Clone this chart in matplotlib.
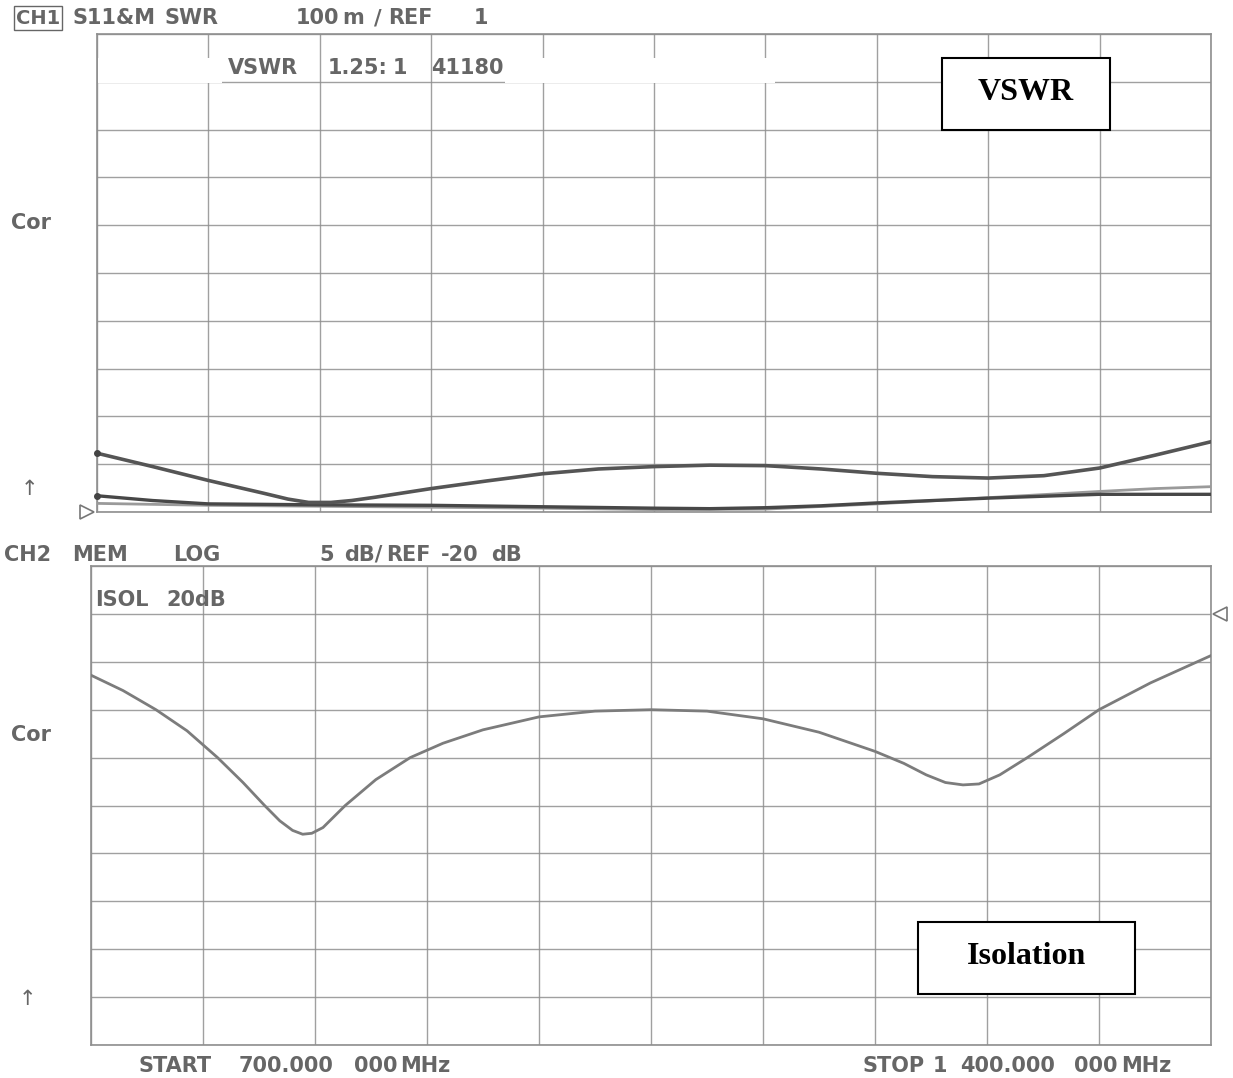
import numpy as np
import matplotlib
matplotlib.use("Agg")
import matplotlib.pyplot as plt
from matplotlib.patches import Rectangle
from matplotlib.lines import Line2D

# sweep: 700 - 1400 MHz, 70 MHz / div
f_start, f_stop = 700, 1400

# CH1 : SWR traces (100 m / div, REF 1)
swr_a_freq = [700, 735, 770, 805, 820, 833, 847, 860, 875, 910, 945, 980, 1015,
              1050, 1085, 1120, 1155, 1190, 1225, 1260, 1295, 1330, 1365, 1400]
swr_a = [1.123, 1.095, 1.066, 1.039, 1.027, 1.020, 1.020, 1.024, 1.031, 1.049,
         1.065, 1.080, 1.090, 1.095, 1.098, 1.097, 1.090, 1.081, 1.074, 1.071,
         1.076, 1.092, 1.119, 1.147]

swr_b_freq = [700, 735, 770, 840, 910, 980, 1050, 1085, 1120, 1155, 1190,
              1225, 1260, 1295, 1330, 1365, 1400]
swr_b = [1.034, 1.024, 1.017, 1.015, 1.014, 1.011, 1.008, 1.007, 1.009, 1.013,
         1.019, 1.024, 1.029, 1.033, 1.037, 1.037, 1.037]

swr_c_freq = [700, 770, 840, 910, 980, 1050, 1120, 1190, 1260, 1330, 1365, 1400]
swr_c = [1.018, 1.014, 1.012, 1.010, 1.008, 1.005, 1.006, 1.017, 1.030, 1.043,
         1.049, 1.053]

# CH2 : isolation (5 dB / div, REF -20 dB)
iso_freq = [700, 720, 740.6, 760, 779.1, 795, 808.5, 818, 826, 832.3, 838, 845,
            858.9, 878, 899.5, 920, 945, 980, 1015, 1050, 1085, 1120, 1155,
            1190, 1208, 1222, 1234, 1245, 1255, 1268, 1285.2, 1308, 1330, 1362.2,
            1400]
iso_db = [-26.4, -28.0, -30.0, -32.2, -35.0, -37.6, -40.0, -41.6, -42.6, -43.0,
          -42.9, -42.3, -40.0, -37.3, -35.0, -33.5, -32.1, -30.75, -30.15, -30.0,
          -30.15, -30.95, -32.35, -34.35, -35.6, -36.8, -37.6, -37.85, -37.75,
          -36.8, -35.0, -32.5, -30.0, -27.2, -24.35]

# plotter annotation words: (y, [(x_left, x_right, word), ...])
header_lines = [
    (18, [(80, 148, "S11&M"), (160, 223, "SWR"), (297, 337, "100"), (345, 362, "m"),
          (372, 383, "/"), (387, 433, "REF"), (475, 487, "1")]),
    (68, [(235, 290, "VSWR"), (328, 388, "1.25:"), (395, 405, "1"), (437, 497, "41180")]),
    (555, [(10, 45, "CH2"), (79, 121, "MEM"), (175, 219, "LOG"), (320, 333, "5"),
           (344, 383, "dB/"), (388, 429, "REF"), (439, 481, "-20"), (494, 520, "dB")]),
    (600, [(95, 149, "ISOL"), (156, 236, "20dB")]),
    (223, [(9, 52, "Cor")]),
    (735, [(9, 52, "Cor")]),
    (1066, [(143, 207, "START"), (230, 343, "700.000"), (353, 398, "000"),
            (406, 445, "MHz"), (865, 922, "STOP"), (935, 945, "1"),
            (953, 1063, "400.000"), (1073, 1118, "000"), (1127, 1165, "MHz")]),
]

W, H = 1233, 1078
fig = plt.figure(figsize=(W / 100, H / 100), dpi=100)

grid_c = "#8f8f8f"
text_c = "#666666"
plot_font = "DejaVu Sans"


def px(x, y):
    # pixel coords (top-left origin) -> figure fraction
    return x / W, 1 - y / H


def grid_axes(rect, ylim, step):
    ax = fig.add_axes(rect)
    ax.set_xlim(f_start, f_stop)
    ax.set_ylim(*ylim)
    ax.set_xticks(np.linspace(f_start, f_stop, 11))
    ax.set_yticks(np.arange(ylim[0], ylim[1] + step / 2, step))
    ax.tick_params(length=0, labelbottom=False, labelleft=False)
    ax.grid(True, color=grid_c, lw=1.0, alpha=0.85)
    for s in ax.spines.values():
        s.set_color(grid_c)
        s.set_linewidth(1.2)
    return ax


# top panel: x 97..1211, y 34..512
ax1 = grid_axes([97 / W, 1 - 512 / H, 1114 / W, 478 / H], (1.0, 2.0), 0.1)
ax1.plot(swr_c_freq, swr_c, color="#9a9a9a", lw=2.0, solid_joinstyle="round", zorder=3)
ax1.plot(swr_b_freq, swr_b, color="#474747", lw=2.4, solid_joinstyle="round", zorder=4)
ax1.plot(swr_a_freq, swr_a, color="#555555", lw=2.6, solid_joinstyle="round", zorder=4)
ax1.plot([swr_a_freq[0], swr_b_freq[0]], [swr_a[0], swr_b[0]], "o", color="#444444",
         ms=4, zorder=5, clip_on=False)

# bottom panel: x 91..1211, y 566..1045
ax2 = grid_axes([91 / W, 1 - 1045 / H, 1120 / W, 479 / H], (-65, -15), 5)
ax2.plot(iso_freq, iso_db, color="#7c7c7c", lw=2.0, solid_joinstyle="round", zorder=3)

# redacted strip in the marker line
for x0, x1 in [(98, 222), (505, 775)]:
    fig.add_artist(Rectangle(px(x0, 83), (x1 - x0) / W, 25 / H, transform=fig.transFigure,
                             facecolor="white", edgecolor="none", zorder=10))


def ptext(x, y, s, size=15, weight="bold", ha="center", **kw):
    fig.text(*px(x, y), s, fontsize=size, family=plot_font, color=text_c,
             va="center", ha=ha, fontweight=weight, zorder=11, **kw)


ptext(38, 18, "CH1", size=14,
      bbox=dict(boxstyle="square,pad=0.12", fc="none", ec=text_c, lw=1))
for y, words in header_lines:
    for x0, x1, w in words:
        ptext((x0 + x1) / 2, y, w)
ptext(29, 489, "↑", size=15, weight="normal")
ptext(27, 999, "↑", size=15, weight="normal")

# reference markers
fig.add_artist(Line2D([87 / W], [1 - 512 / H], marker=">", ms=10, mfc="white",
                      mec="#777777", mew=1.2, transform=fig.transFigure, zorder=12))
fig.add_artist(Line2D([1220 / W], [1 - 614 / H], marker="<", ms=10, mfc="white",
                      mec="#777777", mew=1.2, transform=fig.transFigure, zorder=12))

# labelled boxes
for (x0, y0, x1, y1), label in [((942, 58, 1110, 130), "VSWR"),
                                ((918, 922, 1135, 994), "Isolation")]:
    fig.add_artist(Rectangle(px(x0, y1), (x1 - x0) / W, (y1 - y0) / H,
                             transform=fig.transFigure, facecolor="white",
                             edgecolor="black", lw=1.5, zorder=12))
    fig.text(*px((x0 + x1) / 2, (y0 + y1) / 2 - 1), label, fontsize=23,
             family="Liberation Serif", fontweight="bold", color="black",
             ha="center", va="center", zorder=13)

fig.savefig("out.png", dpi=100, facecolor="white")
